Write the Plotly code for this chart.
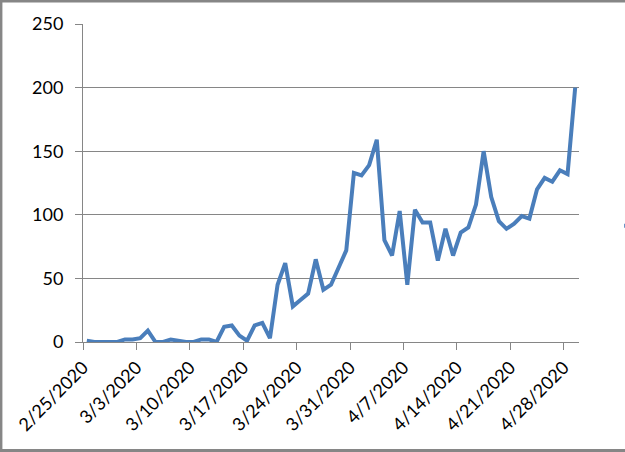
import pandas as pd
import plotly.graph_objects as go

start_date = "2020-02-25"
values = [1, 0, 0, 0, 0, 2, 2, 3, 9, 0,
          0, 2, 1, 0, 0, 2, 2, 0, 12, 13,
          5, 1, 13, 15, 3, 45, 62, 28, 33, 38,
          65, 41, 45, 59, 72, 133, 131, 139, 159, 80,
          68, 103, 45, 104, 94, 94, 64, 89, 68, 86,
          90, 108, 150, 114, 95, 89, 93, 99, 97, 120,
          129, 126, 135, 132, 200]
dates = pd.date_range(start_date, periods=len(values), freq="D")
y_ticks = [0, 50, 100, 150, 200, 250]

GRAY = "#868686"
BLUE = "#4A7EBB"
DAY_MS = 86400000

fig = go.Figure()
fig.add_trace(go.Scatter(
    x=dates, y=values, mode="lines",
    line=dict(color=BLUE, width=4),
    xperiod=DAY_MS, xperiodalignment="middle",
    name="Series1", showlegend=True,
))

fig.update_layout(
    width=625, height=452, autosize=False,
    margin=dict(l=83, r=46, t=24, b=110, autoexpand=False),
    paper_bgcolor="white", plot_bgcolor="white",
    font=dict(family="Lato", size=18, color="black"),
    showlegend=True,
    legend=dict(x=1.081, y=0.365, xanchor="left", yanchor="middle",
                bgcolor="rgba(0,0,0,0)", font=dict(size=18)),
    xaxis=dict(
        type="date",
        range=["2020-02-25", "2020-04-30"],
        tick0="2020-02-25", dtick=7 * DAY_MS,
        tickformat="%-m/%-d/%Y", tickangle=-45,
        ticks="outside", ticklen=7, tickcolor=GRAY,
        showline=True, linecolor=GRAY, linewidth=1,
        showgrid=False, zeroline=False,
    ),
    yaxis=dict(
        range=[0, 250], tickvals=y_ticks,
        ticks="outside", ticklen=7, tickcolor=GRAY,
        showline=True, linecolor=GRAY, linewidth=1,
        showgrid=True, gridcolor=GRAY, gridwidth=1,
        zeroline=False, ticklabelstandoff=8,
    ),
    shapes=[dict(type="rect", xref="paper", yref="paper",
                 x0=-0.1655, x1=1.3, y0=-0.3412, y1=1.0723,
                 line=dict(color=GRAY, width=3), fillcolor="rgba(0,0,0,0)",
                 layer="above")],
)

fig.write_html("out.html",
               config={"displayModeBar": False},
               post_script="document.body.style.margin='0';document.body.style.overflow='hidden';")
